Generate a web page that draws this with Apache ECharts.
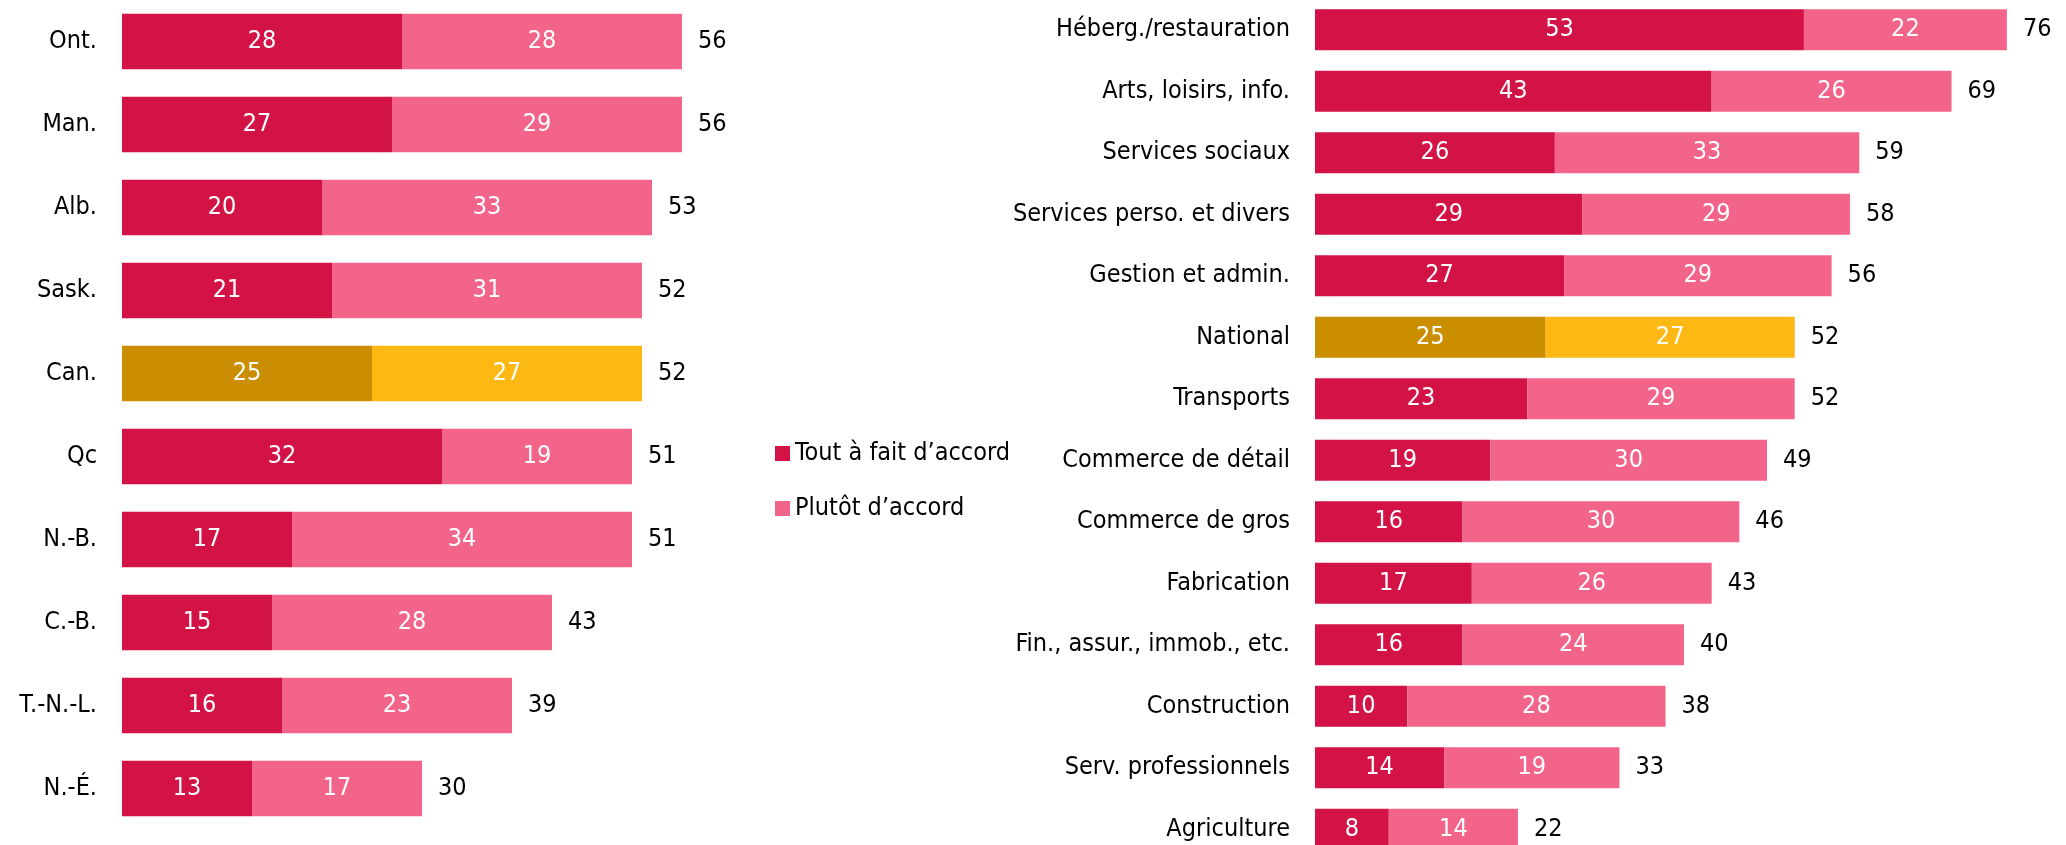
<!DOCTYPE html>
<html>
<head>
<meta charset="utf-8">
<script src="https://cdn.jsdelivr.net/npm/echarts@6/dist/echarts.min.js"></script>
<style>
html,body{margin:0;padding:0;background:#fff;}
#chart{width:2066px;height:845px;}
</style>
</head>
<body>
<div id="chart"></div>
<script>
// Left panel: provinces
const provCategories = ['Ont.', 'Man.', 'Alb.', 'Sask.', 'Can.', 'Qc', 'N.-B.', 'C.-B.', 'T.-N.-L.', 'N.-É.'];
const provStrong = [28, 27, 20, 21, 25, 32, 17, 15, 16, 13];
const provSomewhat = [28, 29, 33, 31, 27, 19, 34, 28, 23, 17];
const provTotal = [56, 56, 53, 52, 52, 51, 51, 43, 39, 30];
const provHighlight = 'Can.';

// Right panel: industries
const indCategories = ['Héberg./restauration', 'Arts, loisirs, info.', 'Services sociaux', 'Services perso. et divers',
  'Gestion et admin.', 'National', 'Transports', 'Commerce de détail', 'Commerce de gros', 'Fabrication',
  'Fin., assur., immob., etc.', 'Construction', 'Serv. professionnels', 'Agriculture'];
const indStrong = [53, 43, 26, 29, 27, 25, 23, 19, 16, 17, 16, 10, 14, 8];
const indSomewhat = [22, 26, 33, 29, 29, 27, 29, 30, 30, 26, 24, 28, 19, 14];
const indTotal = [76, 69, 59, 58, 56, 52, 52, 49, 46, 43, 40, 38, 33, 22];
const indHighlight = 'National';

const seriesNames = ['Tout à fait d’accord', 'Plutôt d’accord'];

const C_DARK = '#D31245', C_LIGHT = '#F3648B', H_DARK = '#CA8E00', H_LIGHT = '#FDB813';
const FONT = '"Liberation Sans Narrow", "DejaVu Sans Condensed", "Open Sans", sans-serif';
const FS = 25;

function colored(values, cats, hl, base, hcol) {
  return values.map((v, i) => cats[i] === hl ? {value: v, itemStyle: {color: hcol}} : {value: v, itemStyle: {color: base}});
}
function panelSeries(idx, cats, strong, somewhat, total, hl) {
  const inside = {show: true, position: 'inside', color: '#fff', fontSize: FS, fontFamily: FONT};
  return [
    {name: seriesNames[0], type: 'bar', stack: 's' + idx, xAxisIndex: idx, yAxisIndex: idx, barCategoryGap: '33%',
     itemStyle: {color: C_DARK}, label: inside, data: colored(strong, cats, hl, C_DARK, H_DARK)},
    {name: seriesNames[1], type: 'bar', stack: 's' + idx, xAxisIndex: idx, yAxisIndex: idx, barCategoryGap: '33%',
     itemStyle: {color: C_LIGHT}, label: inside, data: colored(somewhat, cats, hl, C_LIGHT, H_LIGHT)},
    {name: 'total' + idx, type: 'bar', stack: 's' + idx, xAxisIndex: idx, yAxisIndex: idx, barCategoryGap: '33%',
     itemStyle: {color: 'transparent'}, silent: true,
     label: {show: true, position: 'right', distance: 16, color: '#000', fontSize: FS, fontFamily: FONT,
       formatter: p => total[p.dataIndex]},
     data: total.map(() => 0)}
  ];
}

const chart = echarts.init(document.getElementById('chart'), null, {renderer: 'canvas'});
chart.setOption({
  animation: false,
  backgroundColor: '#fff',
  textStyle: {fontFamily: FONT},
  legend: {
    data: seriesNames, orient: 'vertical', left: 770, top: 436, icon: 'rect',
    itemWidth: 15, itemHeight: 15, itemGap: 30,
    textStyle: {fontSize: FS, color: '#000', fontFamily: FONT}
  },
  grid: [
    {left: 122, top: 0, width: 600, height: 830, containLabel: false, outerBoundsMode: 'none'},
    {left: 1315, top: -1, width: 738, height: 861, containLabel: false, outerBoundsMode: 'none'}
  ],
  xAxis: [
    {gridIndex: 0, type: 'value', min: 0, max: 60, show: false},
    {gridIndex: 1, type: 'value', min: 0, max: 80, show: false}
  ],
  yAxis: [
    {gridIndex: 0, type: 'category', data: provCategories, inverse: true,
     axisLine: {show: false}, axisTick: {show: false}, splitLine: {show: false},
     axisLabel: {margin: 25, fontSize: FS, color: '#000', fontFamily: FONT}},
    {gridIndex: 1, type: 'category', data: indCategories, inverse: true,
     axisLine: {show: false}, axisTick: {show: false}, splitLine: {show: false},
     axisLabel: {margin: 25, fontSize: FS, color: '#000', fontFamily: FONT}}
  ],
  series: [
    ...panelSeries(0, provCategories, provStrong, provSomewhat, provTotal, provHighlight),
    ...panelSeries(1, indCategories, indStrong, indSomewhat, indTotal, indHighlight)
  ]
});
</script>
</body>
</html>
